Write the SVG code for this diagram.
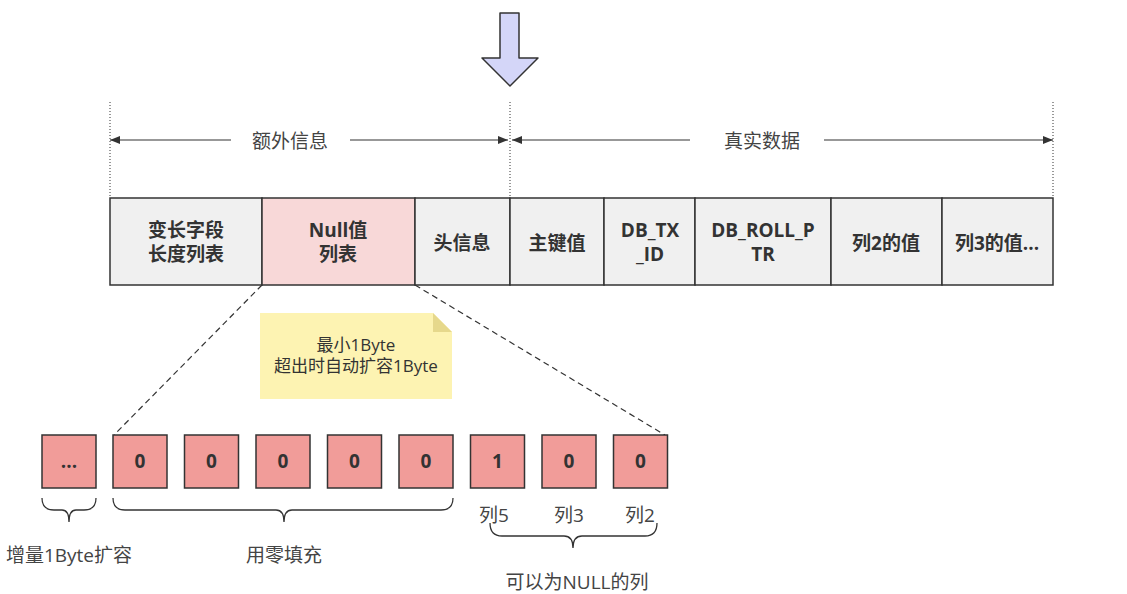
<svg xmlns="http://www.w3.org/2000/svg" width="1127" height="594" viewBox="0 0 1127 594">
<defs>
<style>
.box{fill:#f0f0f0;stroke:#333;stroke-width:1.5}
.nbox{fill:#f8d8d8;stroke:#333;stroke-width:1.5}
.bit{fill:#f19c99;stroke:#333;stroke-width:1.5}
.bt{font-family:"Open Sans","Noto Sans CJK SC",sans-serif;font-weight:bold;font-size:19px;fill:#333;text-anchor:middle}
.lt{font-family:"Open Sans","Noto Sans CJK SC",sans-serif;font-size:19px;fill:#444;text-anchor:middle}
.nt{font-family:"Open Sans","Noto Sans CJK SC",sans-serif;font-size:17px;fill:#333;text-anchor:middle}
.dot{stroke:#333;stroke-width:1;stroke-dasharray:1 2;fill:none}
.dash{stroke:#333;stroke-width:1.2;stroke-dasharray:6 4;fill:none}
.ln{stroke:#333;stroke-width:1.2;fill:none}
.br{stroke:#333;stroke-width:1.3;fill:none}
</style>
<marker id="ah" viewBox="0 0 10 10" refX="10" refY="5" markerWidth="10" markerHeight="10" orient="auto-start-reverse" markerUnits="userSpaceOnUse">
<path d="M0,1 L10,5 L0,9 Z" fill="#333"/>
</marker>
</defs>
<rect width="1127" height="594" fill="#fff"/>

<g id="big-arrow">
<path d="M500,13 L519,13 L519,58 L538,58 L510,86 L482,58 L500,58 Z" fill="#d4d6f8" stroke="#333" stroke-width="1.5" stroke-linejoin="round"/>
</g>

<g id="connectors">
<line class="dot" x1="110" y1="102" x2="110" y2="198"/>
<line class="dot" x1="510" y1="102" x2="510" y2="198"/>
<line class="dot" x1="1053" y1="102" x2="1053" y2="198"/>
<line class="ln" x1="110" y1="140" x2="231" y2="140" marker-start="url(#ah)"/>
<line class="ln" x1="350" y1="140" x2="508" y2="140" marker-end="url(#ah)"/>
<line class="ln" x1="512" y1="140" x2="690" y2="140" marker-start="url(#ah)"/>
<line class="ln" x1="824" y1="140" x2="1053" y2="140" marker-end="url(#ah)"/>
<line class="dash" x1="262" y1="285" x2="114" y2="435"/>
<line class="dash" x1="415" y1="285" x2="665" y2="435"/>
<path class="br" d="M42,498 Q42,510 54,510 L62,510 Q69,510 69,522 Q69,510 76,510 L84,510 Q96,510 96,498"/>
<path class="br" d="M113,498 Q113,510 125,510 L276,510 Q284,510 284,522 Q284,510 292,510 L441,510 Q453,510 453,498"/>
<path class="br" d="M490,523 Q490,536 502,536 L564,536 Q573,536 573,548 Q573,536 582,536 L645,536 Q657,536 657,523"/>
</g>

<g id="label-extra"><text class="lt" x="290" y="148">额外信息</text></g>
<g id="label-real"><text class="lt" x="762" y="148">真实数据</text></g>

<g id="n-varlen"><rect class="box" x="110" y="198" width="152" height="87"/><text class="bt" x="186" y="237">变长字段</text><text class="bt" x="186" y="261">长度列表</text></g>
<g id="n-null"><rect class="nbox" x="262" y="198" width="153" height="87"/><text class="bt" x="338" y="237">Null值</text><text class="bt" x="338" y="261">列表</text></g>
<g id="n-head"><rect class="box" x="415" y="198" width="95" height="87"/><text class="bt" x="462" y="250">头信息</text></g>
<g id="n-pk"><rect class="box" x="510" y="198" width="94" height="87"/><text class="bt" x="557" y="250">主键值</text></g>
<g id="n-txid"><rect class="box" x="604" y="198" width="91" height="87"/><text class="bt" x="650" y="237">DB_TX</text><text class="bt" x="650" y="261">_ID</text></g>
<g id="n-roll"><rect class="box" x="695" y="198" width="136" height="87"/><text class="bt" x="763" y="237">DB_ROLL_P</text><text class="bt" x="763" y="261">TR</text></g>
<g id="n-col2"><rect class="box" x="831" y="198" width="111" height="87"/><text class="bt" x="886" y="250">列2的值</text></g>
<g id="n-col3"><rect class="box" x="942" y="198" width="111" height="87"/><text class="bt" x="997" y="250">列3的值...</text></g>

<g id="note">
<path d="M260,313 L433,313 L452,332 L452,399 L260,399 Z" fill="#fdf3b2"/>
<path d="M433,313 L452,332 L433,332 Z" fill="#e6d88c"/>
<text class="nt" x="356" y="351">最小1Byte</text>
<text class="nt" x="356" y="372">超出时自动扩容1Byte</text>
</g>

<g id="b-ext"><rect class="bit" x="42" y="435" width="54" height="53"/><text class="bt" x="69" y="468">...</text></g>
<g id="b1"><rect class="bit" x="113" y="435" width="54" height="53"/><text class="bt" x="140" y="468">0</text></g>
<g id="b2"><rect class="bit" x="184.5" y="435" width="54" height="53"/><text class="bt" x="211.5" y="468">0</text></g>
<g id="b3"><rect class="bit" x="256" y="435" width="54" height="53"/><text class="bt" x="283" y="468">0</text></g>
<g id="b4"><rect class="bit" x="327.5" y="435" width="54" height="53"/><text class="bt" x="354.5" y="468">0</text></g>
<g id="b5"><rect class="bit" x="399" y="435" width="54" height="53"/><text class="bt" x="426" y="468">0</text></g>
<g id="b6"><rect class="bit" x="470.5" y="435" width="54" height="53"/><text class="bt" x="497.5" y="468">1</text></g>
<g id="b7"><rect class="bit" x="542" y="435" width="54" height="53"/><text class="bt" x="569" y="468">0</text></g>
<g id="b8"><rect class="bit" x="613.5" y="435" width="54" height="53"/><text class="bt" x="640.5" y="468">0</text></g>

<g id="labels">
<text class="lt" x="494" y="522">列5</text>
<text class="lt" x="569" y="522">列3</text>
<text class="lt" x="640" y="522">列2</text>
<text class="lt" x="69" y="562">增量1Byte扩容</text>
<text class="lt" x="284" y="562">用零填充</text>
<text class="lt" x="577" y="589">可以为NULL的列</text>
</g>
</svg>
